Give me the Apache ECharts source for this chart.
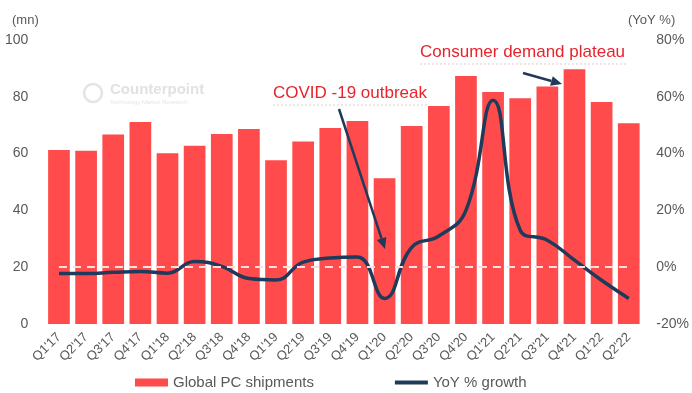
<!DOCTYPE html>
<html><head><meta charset="utf-8">
<script src="https://cdn.jsdelivr.net/npm/echarts@6/dist/echarts.min.js"></script>
<style>html,body{margin:0;padding:0;background:#fff}#c{width:692px;height:393px}</style>
</head><body><div id="c"></div>
<script>
const categories = ["Q1'17","Q2'17","Q3'17","Q4'17","Q1'18","Q2'18","Q3'18","Q4'18","Q1'19","Q2'19","Q3'19","Q4'19","Q1'20","Q2'20","Q3'20","Q4'20","Q1'21","Q2'21","Q3'21","Q4'21","Q1'22","Q2'22"];
const shipments = [61.3,61,66.7,71.1,60.1,62.8,66.9,68.7,57.7,64.3,69,71.5,51.3,69.7,76.8,87.3,81.7,79.5,83.6,89.7,78.2,70.7];
const yoyGrowth = [-2.2,-2.2,-1.8,-1.5,-2.1,2,0.3,-4,-4.5,1.8,3.2,3.6,-11,7,11,20,58.8,13,9.5,2.5,-4.6,-11];
const leftTicks = [0,100,20];
const rightTicks = [-20,80,20];

const chart = echarts.init(document.getElementById('c'));
const txt = '#595959';
const font = 'Liberation Sans, Arial, sans-serif';
const navy = '#1F3A5B';
function arrow(x1,y1,x2,y2){
  const a = Math.atan2(y2-y1,x2-x1), L=11, W=5;
  const bx = x2 - L*Math.cos(a), by = y2 - L*Math.sin(a);
  const px = -Math.sin(a)*W, py = Math.cos(a)*W;
  return [
    {type:'line',z:50,shape:{x1:x1,y1:y1,x2:bx,y2:by},style:{stroke:navy,lineWidth:2.5}},
    {type:'polygon',z:50,shape:{points:[[x2,y2],[bx+px,by+py],[bx-px,by-py]]},style:{fill:navy}}
  ];
}
chart.setOption({
  animation:false,
  textStyle:{fontFamily:font},
  grid:{left:45.4,right:47,top:40,bottom:69},
  legend:{top:370,left:130,itemGap:81,textStyle:{color:txt,fontSize:15,fontFamily:font},
    data:[{name:'Global PC shipments',icon:'rect',itemStyle:{color:'#FF4B4B'}},{name:'YoY % growth',icon:'path://M0,0 L40,0 L40,5 L0,5 Z',itemStyle:{color:navy}}],
    itemWidth:33,itemHeight:8},
  xAxis:{type:'category',data:categories,axisLine:{show:false},axisTick:{show:false},
    axisLabel:{rotate:45,color:txt,fontSize:13,interval:0,margin:11}},
  yAxis:[
    {type:'value',min:leftTicks[0],max:leftTicks[1],interval:leftTicks[2],splitLine:{show:false},
      axisLabel:{color:txt,fontSize:14,margin:17}},
    {type:'value',min:rightTicks[0],max:rightTicks[1],interval:rightTicks[2],splitLine:{show:false},
      axisLabel:{color:txt,fontSize:14,margin:14,formatter:'{value}%'}}
  ],
  series:[
    {name:'Global PC shipments',type:'bar',data:shipments,barCategoryGap:'20%',itemStyle:{color:'#FF4B4B'},z:2},
    {name:'YoY % growth',type:'line',yAxisIndex:1,data:yoyGrowth,smooth:0.45,symbol:'none',z:4,
      lineStyle:{color:navy,width:3.5},
      markLine:{silent:true,symbol:'none',label:{show:false},lineStyle:{color:'#F5E0E0',width:2,type:[8,6]},
        data:[[{coord:[0,0]},{coord:[21,0]}]]}}
  ],
  graphic:[
    {type:'text',left:12,top:14,style:{text:'(mn)',fill:txt,font:'13px '+font}},
    {type:'text',left:628,top:14,style:{text:'(YoY %)',fill:txt,font:'13px '+font}},
    {type:'text',left:273,top:85,style:{text:'COVID -19 outbreak',fill:'#E8232B',font:'17px '+font}},
    {type:'line',shape:{x1:273,y1:105,x2:428,y2:105},style:{stroke:'#E8C8C8',lineWidth:1,lineDash:[2,2]}},
    {type:'text',left:420,top:44,style:{text:'Consumer demand plateau',fill:'#E8232B',font:'17px '+font}},
    {type:'line',shape:{x1:420,y1:64,x2:626,y2:64},style:{stroke:'#E8C8C8',lineWidth:1,lineDash:[2,2]}},
    ...arrow(339,109,385,249),
    ...arrow(523,73,562,84),
    {type:'circle',shape:{cx:93,cy:93,r:9},style:{fill:'none',stroke:'#E4E4E4',lineWidth:2.5}},
    {type:'text',left:110,top:82,style:{text:'Counterpoint',fill:'#E2E2E2',font:'bold 15px '+font}},
    {type:'text',left:110,top:99,style:{text:'Technology Market Research',fill:'#E6E6E6',font:'6px '+font}}
  ]
});
</script></body></html>
